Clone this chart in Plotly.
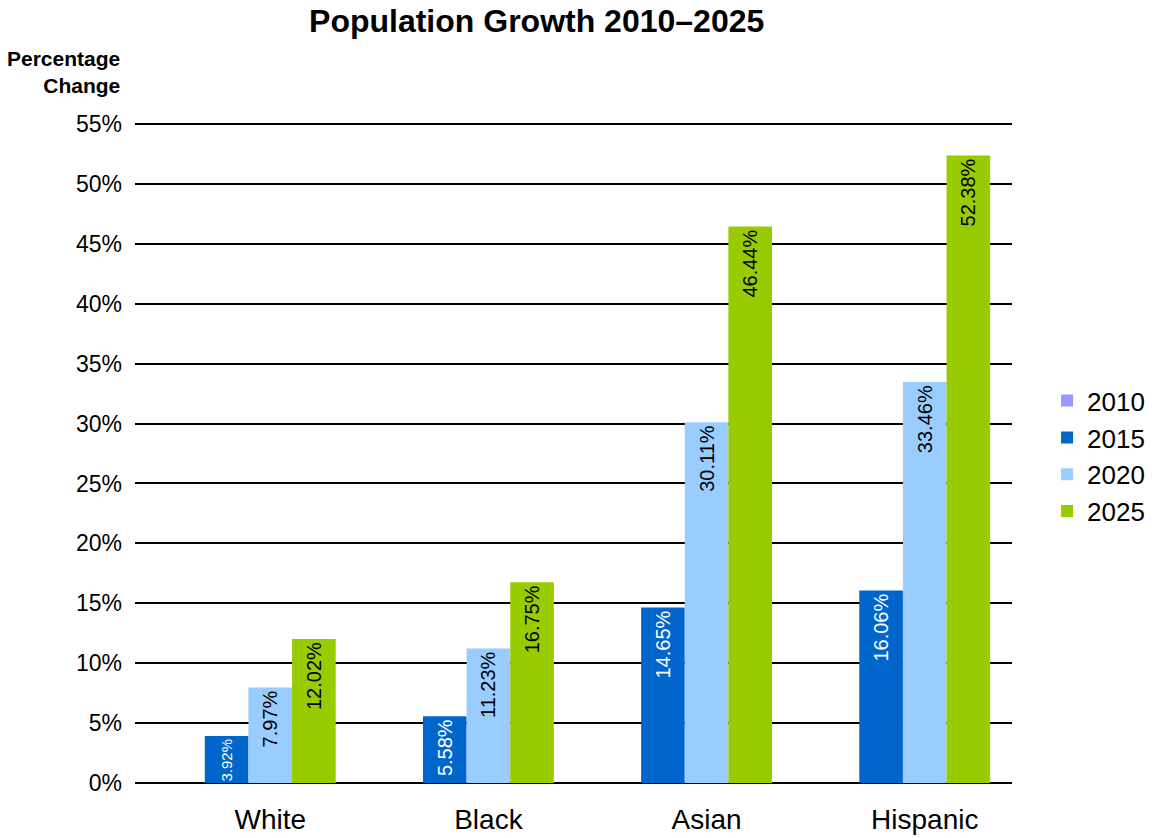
import plotly.graph_objects as go

categories = ["White", "Black", "Asian", "Hispanic"]
years = ["2010", "2015", "2020", "2025"]
v2010 = [0, 0, 0, 0]
v2015 = [3.92, 5.58, 14.65, 16.06]
v2020 = [7.97, 11.23, 30.11, 33.46]
v2025 = [12.02, 16.75, 46.44, 52.38]
series = [v2010, v2015, v2020, v2025]
colors = ["#9999FF", "#0066CC", "#99CCFF", "#99CC00"]
text_colors = ["black", "white", "black", "black"]
y_ticks = list(range(0, 56, 5))

FONT = "Liberation Sans, Arial, sans-serif"
xpos = list(range(len(categories)))

fig = go.Figure()
for yr, vals, col, tc in zip(years, series, colors, text_colors):
    fig.add_trace(go.Bar(
        name=yr, x=xpos, y=vals, marker_color=col, marker_line_width=0,
        text=[f"{v:.2f}%" if v > 0 else "" for v in vals],
        textposition="inside", insidetextanchor="end", textangle=-90,
        constraintext="none",
        textfont=dict(family=FONT, size=[15 if v < 5 else 20 for v in vals], color=tc),
        cliponaxis=False,
    ))

fig.update_layout(
    width=1169, height=838,
    barmode="group", bargap=0.2, bargroupgap=0,
    plot_bgcolor="white", paper_bgcolor="white",
    margin=dict(l=135, r=157, t=112, b=55),
    font=dict(family=FONT, color="black"),
    title=dict(text="<b>Population Growth 2010–2025</b>", x=0.458, xref="paper",
               xanchor="center", y=0.975, yanchor="middle",
               font=dict(size=32, family=FONT, color="black")),
    legend=dict(x=1.04, xanchor="left", y=0.487, yanchor="middle",
                font=dict(size=26, family=FONT), tracegroupgap=0,
                itemwidth=30, bgcolor="rgba(0,0,0,0)"),
    xaxis=dict(range=[-0.52, len(categories) - 0.5],
               tickvals=[i + 0.1 for i in xpos], ticktext=categories,
               tickfont=dict(size=28, family=FONT), showgrid=False,
               zeroline=False, showline=False, ticks="",
               ticklabelstandoff=17, automargin=False),
    yaxis=dict(range=[0, 56], tickvals=y_ticks,
               ticktext=[f"{t}%" for t in y_ticks],
               tickfont=dict(size=23, family=FONT), showgrid=True,
               gridcolor="black", gridwidth=1.5, zeroline=True,
               zerolinecolor="black", zerolinewidth=1.5, ticks="",
               ticklabelstandoff=12, automargin=False),
    annotations=[dict(text="<b>Percentage<br>Change</b>", xref="paper", yref="paper",
                      x=-0.015, y=1.0, xanchor="right", yanchor="bottom", yshift=13,
                      align="right", showarrow=False,
                      font=dict(size=21, family=FONT, color="black"))],
)

fig.write_html("out.html")
